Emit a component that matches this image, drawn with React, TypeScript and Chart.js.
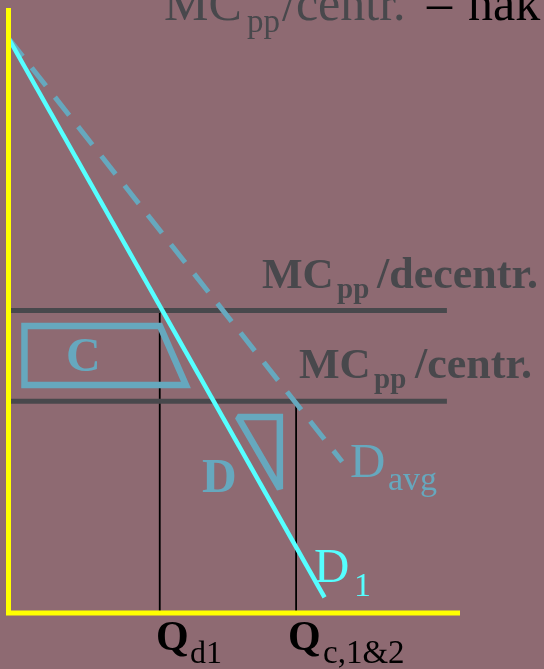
import React, { useEffect, useRef } from 'react';
import { Chart, registerables } from 'chart.js';

Chart.register(...registerables);

// ---- data (quantity Q on x, price/cost P on y) ----
const axisQ = [0, 0, 10];
const axisP = [10, 0, 0];
const demandD1Q = [0, 7.0];
const demandD1P = [9.5, 0.26];
const demandAvgQ = [0, 7.39];
const demandAvgP = [9.5, 2.5];
const mcRangeQ = [0, 9.71];
const mcDecentrP = 5.0;
const mcCentrP = 3.5;
const qD1 = 3.35;
const qC = 6.37;
const areaCQ = [0.354, 3.355, 3.93, 0.354, 0.354];
const areaCP = [4.744, 4.744, 3.769, 3.769, 4.744];
const areaDQ = [6.01, 6.01, 5.08, 6.01];
const areaDP = [3.24, 2.05, 3.24, 3.24];

// ---- styles ----
const BG = '#8E6A72';
const GRAY = '#48484C';
const TEAL = '#66A8BE';
const CYAN = '#55FFFF';
const YELLOW = '#FFFF00';
const FONT = '"Liberation Serif", "Times New Roman", serif';

const pts = (qs: number[], ps: number[]) => qs.map((q, i) => ({ x: q, y: ps[i] }));

type Seg = { t: string; x: number; y: number; size: number; bold?: boolean; color: string };
const labels: Seg[] = [
  { t: 'MC', x: 164, y: 20, size: 50, color: GRAY },
  { t: 'pp', x: 247, y: 32, size: 33, color: GRAY },
  { t: '/centr.', x: 282, y: 20, size: 50, color: GRAY },
  { t: '–', x: 427, y: 20, size: 50, color: '#000000' },
  { t: 'nak', x: 468, y: 20, size: 50, color: '#000000' },
  { t: 'MC', x: 262, y: 288, size: 43, bold: true, color: GRAY },
  { t: 'pp', x: 337, y: 298, size: 29, bold: true, color: GRAY },
  { t: '/decentr.', x: 377, y: 288, size: 44, bold: true, color: GRAY },
  { t: 'MC', x: 299, y: 378, size: 43, bold: true, color: GRAY },
  { t: 'pp', x: 374, y: 388, size: 29, bold: true, color: GRAY },
  { t: '/centr.', x: 415, y: 378, size: 44, bold: true, color: GRAY },
  { t: 'C', x: 66, y: 371, size: 48, bold: true, color: TEAL },
  { t: 'D', x: 202, y: 492, size: 48, bold: true, color: TEAL },
  { t: 'D', x: 350, y: 477, size: 49, color: TEAL },
  { t: 'avg', x: 388, y: 490, size: 34, color: TEAL },
  { t: 'D', x: 314, y: 582, size: 49, color: CYAN },
  { t: '1', x: 354, y: 596, size: 34, color: CYAN },
  { t: 'Q', x: 156, y: 650, size: 42, bold: true, color: '#000000' },
  { t: 'd1', x: 190, y: 663, size: 32, color: '#000000' },
  { t: 'Q', x: 288, y: 650, size: 42, bold: true, color: '#000000' },
  { t: 'c,1&2', x: 323, y: 663, size: 33, color: '#000000' },
];

const textPlugin = {
  id: 'textLabels',
  afterDraw(chart: any) {
    const ctx = chart.ctx as CanvasRenderingContext2D;
    ctx.save();
    ctx.textAlign = 'left';
    ctx.textBaseline = 'alphabetic';
    for (const s of labels) {
      ctx.font = `${s.bold ? 'bold ' : ''}${s.size}px ${FONT}`;
      ctx.fillStyle = s.color;
      ctx.fillText(s.t, s.x, s.y);
    }
    ctx.restore();
  },
};

const lineDs = (data: any[], color: string, width: number, order: number, extra: any = {}) => ({
  data,
  showLine: true,
  borderColor: color,
  backgroundColor: color,
  borderWidth: width,
  pointRadius: 0,
  pointHoverRadius: 0,
  fill: false,
  tension: 0,
  clip: false,
  order,
  borderCapStyle: 'butt',
  borderJoinStyle: 'miter',
  ...extra,
});

export default function App() {
  const ref = useRef<HTMLCanvasElement | null>(null);

  useEffect(() => {
    document.body.style.margin = '0';
    document.body.style.background = BG;
    if (!ref.current) return;
    const chart = new Chart(ref.current, {
      type: 'scatter',
      data: {
        datasets: [
          lineDs(pts(axisQ, axisP), YELLOW, 5, 0),
          lineDs(pts(demandD1Q, demandD1P), CYAN, 4.5, 1),
          lineDs(pts(demandAvgQ, demandAvgP), TEAL, 5, 2, { borderDash: [23, 14.5] }),
          lineDs(pts(areaCQ, areaCP), TEAL, 6.5, 3, { borderCapStyle: 'square' }),
          lineDs(pts(areaDQ, areaDP), TEAL, 6.5, 3, { borderCapStyle: 'square', borderJoinStyle: 'bevel' }),
          lineDs(pts(mcRangeQ, [mcDecentrP, mcDecentrP]), GRAY, 5, 4),
          lineDs(pts(mcRangeQ, [mcCentrP, mcCentrP]), GRAY, 5, 4),
          lineDs(pts([qD1, qD1], [0, mcDecentrP]), '#000000', 1.8, 5),
          lineDs(pts([qC, qC], [0, mcCentrP]), '#000000', 1.8, 5),
        ] as any,
      },
      options: {
        animation: false,
        responsive: false,
        devicePixelRatio: 1,
        layout: { padding: { left: 8.5, top: 8, right: 84, bottom: 56 } },
        plugins: { legend: { display: false }, tooltip: { enabled: false } },
        events: [],
        scales: {
          x: { type: 'linear', min: 0, max: 10, display: false },
          y: { type: 'linear', min: 0, max: 10, display: false },
        },
      },
      plugins: [textPlugin],
    });
    return () => chart.destroy();
  }, []);

  return (
    <div style={{ position: 'fixed', left: 0, top: 0, width: 544, height: 669, background: BG, overflow: 'hidden' }}>
      <canvas ref={ref} width={544} height={669} style={{ display: 'block' }} />
    </div>
  );
}
